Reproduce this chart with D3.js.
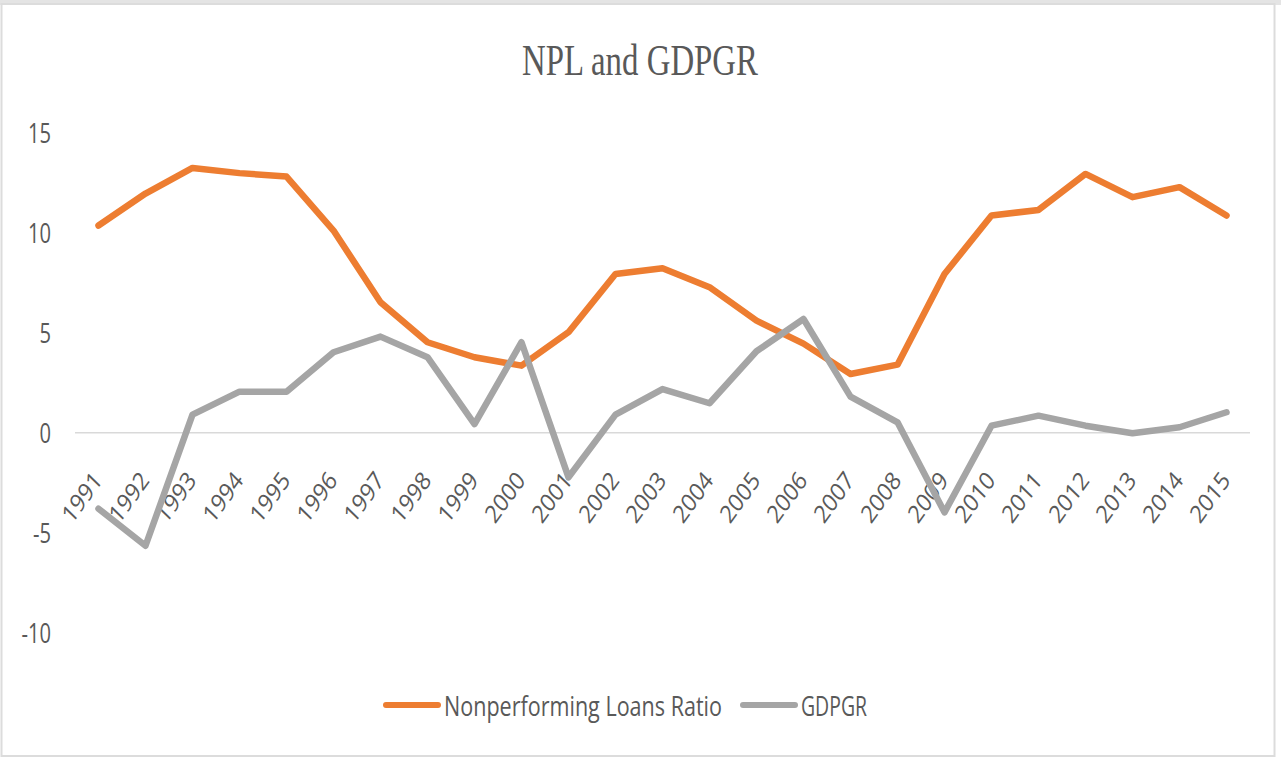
<!DOCTYPE html>
<html>
<head>
<meta charset="utf-8">
<script src="https://cdn.jsdelivr.net/npm/d3@7"></script>
<style>
  html, body { margin: 0; padding: 0; background: #fff; }
  svg { display: block; }
</style>
</head>
<body>
<svg width="1281" height="758"></svg>
<script>
var years = ["1991","1992","1993","1994","1995","1996","1997","1998","1999","2000",
             "2001","2002","2003","2004","2005","2006","2007","2008","2009","2010",
             "2011","2012","2013","2014","2015"];
var nplRatio = [10.35, 11.95, 13.23, 12.97, 12.8, 10.1, 6.52, 4.52, 3.77, 3.35,
                5.02, 7.93, 8.22, 7.27, 5.6, 4.45, 2.93, 3.4, 7.93, 10.85,
                11.13, 12.93, 11.77, 12.27, 10.85];
var gdpgr = [-3.8, -5.65, 0.9, 2.05, 2.05, 4.02, 4.8, 3.77, 0.43, 4.52,
             -2.23, 0.9, 2.18, 1.47, 4.07, 5.68, 1.8, 0.52, -3.98, 0.35,
             0.85, 0.35, -0.03, 0.27, 1.02];
var yTicks = [15, 10, 5, 0, -5, -10];
var seriesNames = ["Nonperforming Loans Ratio", "GDPGR"];
var seriesColors = ["#ED7D31", "#A5A5A5"];

var svg = d3.select("svg"),
    width = +svg.attr("width"),
    height = +svg.attr("height");

// frame
svg.append("rect").attr("x", 0).attr("y", 0).attr("width", width).attr("height", 5).attr("fill", "#e4e4e4");
svg.append("rect").attr("x", 1.5).attr("y", 4).attr("width", width - 8).attr("height", height - 6)
    .attr("fill", "#fff").attr("stroke", "#dcdcdc").attr("stroke-width", 2);

var x = d3.scalePoint().domain(years).range([75, 1250]).padding(0.5);
var y = d3.scaleLinear().domain([-10, 15]).range([632.8, 132.5]);

// title
svg.append("text")
    .attr("x", 640).attr("y", 75)
    .attr("text-anchor", "middle")
    .attr("font-family", "Liberation Serif, serif")
    .attr("font-size", 45)
    .attr("fill", "#595959")
    .attr("textLength", 236).attr("lengthAdjust", "spacingAndGlyphs")
    .text("NPL and GDPGR");

// y axis labels
svg.append("g").selectAll("text")
    .data(yTicks)
    .enter().append("text")
    .attr("transform", function(d) { return "translate(51," + y(d) + ") scale(0.72,1)"; })
    .attr("dy", "0.36em")
    .attr("text-anchor", "end")
    .attr("font-family", "Open Sans, sans-serif")
    .attr("font-size", 28)
    .attr("fill", "#595959")
    .text(function(d) { return d; });

// zero line
svg.append("line")
    .attr("x1", 75).attr("x2", 1250)
    .attr("y1", y(0)).attr("y2", y(0))
    .attr("stroke", "#d9d9d9").attr("stroke-width", 1.5);

// x labels, rotated
svg.append("g").selectAll("text")
    .data(years)
    .enter().append("text")
    .attr("transform", function(d) { return "translate(" + (x(d) + 5) + ",481) scale(0.86,1) rotate(-50)"; })
    .attr("text-anchor", "end")
    .attr("font-family", "Open Sans, sans-serif")
    .attr("font-size", 25)
    .attr("fill", "#595959")
    .text(function(d) { return d; });

// lines
var line = d3.line()
    .x(function(d, i) { return x(years[i]); })
    .y(function(d) { return y(d); });

[nplRatio, gdpgr].forEach(function(vals, k) {
    svg.append("path")
        .datum(vals)
        .attr("d", line)
        .attr("fill", "none")
        .attr("stroke", seriesColors[k])
        .attr("stroke-width", 6.5)
        .attr("stroke-linejoin", "round")
        .attr("stroke-linecap", "round");
});

// legend
var legendX = [386, 743], legendW = [278, 66];
var legend = svg.append("g").selectAll("g")
    .data(seriesNames)
    .enter().append("g");

legend.append("line")
    .attr("x1", function(d, i) { return legendX[i]; })
    .attr("x2", function(d, i) { return legendX[i] + 52; })
    .attr("y1", 705).attr("y2", 705)
    .attr("stroke", function(d, i) { return seriesColors[i]; })
    .attr("stroke-width", 6)
    .attr("stroke-linecap", "round");

legend.append("text")
    .attr("x", function(d, i) { return legendX[i] + 58; })
    .attr("y", 716)
    .attr("font-family", "Open Sans, sans-serif")
    .attr("font-size", 28)
    .attr("fill", "#595959")
    .attr("textLength", function(d, i) { return legendW[i]; })
    .attr("lengthAdjust", "spacingAndGlyphs")
    .text(function(d) { return d; });
</script>
</body>
</html>
